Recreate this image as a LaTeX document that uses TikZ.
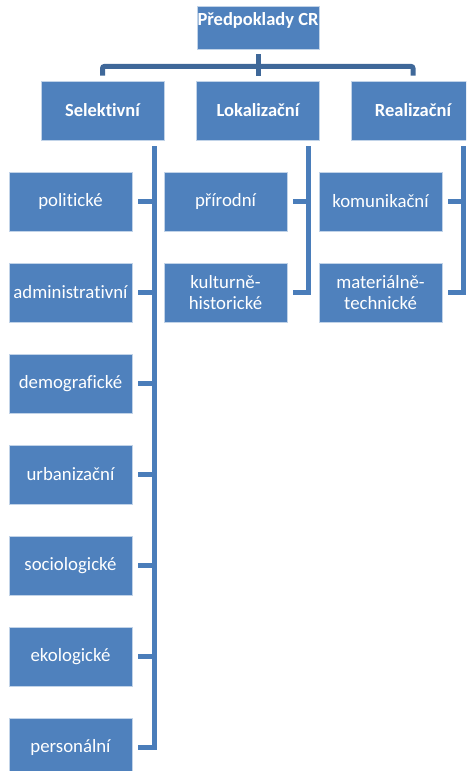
\documentclass[tikz,border=0pt]{standalone}
\usepackage{fontspec}
\setmainfont{Carlito}[Ligatures={NoCommon,NoRequired,NoContextual}]
\definecolor{boxblue}{HTML}{4F81BD}
\definecolor{linkblue}{HTML}{4A7DBA}
\definecolor{busblue}{HTML}{3F6899}
\tikzset{
  box/.style={fill=boxblue, draw=white!65!boxblue, line width=0.8pt,
    minimum width=123pt, minimum height=59pt, inner sep=0pt,
    text=white, align=center, font=\fontsize{18.8}{21}\selectfont},
  head/.style={box, font=\fontsize{18.5}{21}\selectfont\bfseries},
  lbl/.style={text=white, inner sep=0pt, font=\fontsize{18.5}{21}\selectfont\bfseries},
  conn/.style={draw=linkblue, line width=5pt},
  bus/.style={draw=busblue, line width=5pt, rounded corners=2pt}
}
\begin{document}
\begin{tikzpicture}[x=1pt,y=-1pt]
\useasboundingbox (0,0) rectangle (466,771);
\clip (0,0) rectangle (466,771);
% top
\node[box, minimum width=122pt, minimum height=43pt] (top) at (258,27.5) {};
\node[lbl, anchor=base] (toptxt) at (258,25) {Předpoklady CR};
% level 2
\node[head] (sel) at (102.5,110.5) {Selektivní};
\node[head] (lok) at (258,110.5) {Lokalizační};
\node[head] (real) at (413,110.5) {Realizační};
% bus
\draw[bus] ([yshift=5pt]sel.north) |- ([yshift=-17pt]top.south) -| ([yshift=5pt]real.north);
\draw[bus] ([yshift=-5pt]top.south) -- ([yshift=5pt]lok.north);
% Selektivni children
\foreach \n/\t [count=\i] in {s1/politické, s2/administrativní, s3/demografické, s4/urbanizační, s5/sociologické, s6/ekologické, s7/personální}
  \node[box] (\n) at (70.5,{201.5+91*(\i-1)}) {\t};
% Lokalizacni children
\node[box] (l1) at (225.5,201.5) {přírodní};
\node[box] (l2) at (225.5,292.5) {kulturně-\\historické};
% Realizacni children
\node[box] (r1) at (380.5,201.5) {komunikační};
\node[box] (r2) at (380.5,292.5) {materiálně-\\technické};
% connectors
\coordinate (sTop) at (154,146);
\coordinate (lTop) at (308,146);
\coordinate (rTop) at (463,146);
\draw[conn] (sTop) |- ([xshift=6pt]s7.east);
\foreach \n in {s1,s2,s3,s4,s5,s6}
  \draw[conn] ([xshift=6pt]\n.east) -- (\n.east -| sTop);
\draw[conn] (lTop) |- ([xshift=6pt]l2.east);
\draw[conn] ([xshift=6pt]l1.east) -- (l1.east -| lTop);
\draw[conn] (rTop) |- ([xshift=6pt]r2.east);
\draw[conn] ([xshift=6pt]r1.east) -- (r1.east -| rTop);
\end{tikzpicture}
\end{document}
